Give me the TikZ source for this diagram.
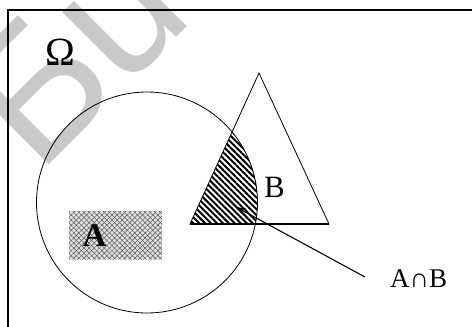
\documentclass[tikz,border=0pt]{standalone}
\usepackage{fontspec}
\setmainfont{Liberation Serif}
\newfontfamily\wmfont{Liberation Sans}
\usetikzlibrary{patterns.meta,arrows.meta}

\begin{document}
\begin{tikzpicture}[x=1pt,y=-1pt,
  frameline/.style={line width=2pt},
  setline/.style={line width=0.8pt},
  hatch/.style={pattern={Lines[angle=-45,distance=4.2pt,line width=2pt]},pattern color=black},
  meshbox/.style={fill=black!12},
  meshlines/.style={pattern={Lines[angle=45,distance=3.6pt,line width=0.5pt]},pattern color=black!65},
  meshlines2/.style={pattern={Lines[angle=-45,distance=3.6pt,line width=0.5pt]},pattern color=black!65},
  lbl/.style={inner sep=0pt},
  wm/.style={inner sep=0pt,text=black!21,font=\wmfont\fontsize{185}{185}\selectfont}]

\useasboundingbox (0,0) rectangle (472,327);
\clip (0,0) rectangle (472,327);

% background watermark
\node[wm,rotate=45,anchor=base west] (mark) at (38,176) {Бuc};

% sample space
\draw[frameline] (8,345) -- (8,10) -- (490,10);
\node[lbl,font=\fontsize{40}{40}\selectfont] (omega) at (60,52) {Ω};

% set A (circle) and set B (triangle)
\coordinate (cA) at (147,202.5);
\coordinate (t1) at (259,73);
\coordinate (t2) at (190,224);
\coordinate (t3) at (329,224);

% intersection, hatched
\begin{scope}
  \clip (cA) circle[radius=110.5];
  \fill[hatch] (t1) -- (t2) -- (t3) -- cycle;
\end{scope}

\draw[setline] (cA) circle[radius=110.5];
\draw[setline] (t1) -- (t2) -- (t3) -- cycle;
\draw[line width=1.6pt] (t2) -- (t3);

% shaded block inside A
\fill[meshbox] (69,211) rectangle (162,259);
\fill[meshlines] (69,211) rectangle (162,259);
\fill[meshlines2] (69,211) rectangle (162,259);
\node[lbl,font=\bfseries\fontsize{33}{33}\selectfont] (labA) at (94.5,235.5) {A};

\node[lbl,font=\fontsize{31}{31}\selectfont] (labB) at (274.5,187) {B};

% pointer to the intersection
\node[lbl,font=\fontsize{27}{27}\selectfont,anchor=base west] (labAB) at (390,287) {A∩B};
\coordinate (ptail) at (365,277);
\coordinate (ptip) at (236,207);
\draw[line width=1.1pt,-{Stealth[length=10pt,width=7pt]}] (ptail) -- (ptip);

\end{tikzpicture}
\end{document}
